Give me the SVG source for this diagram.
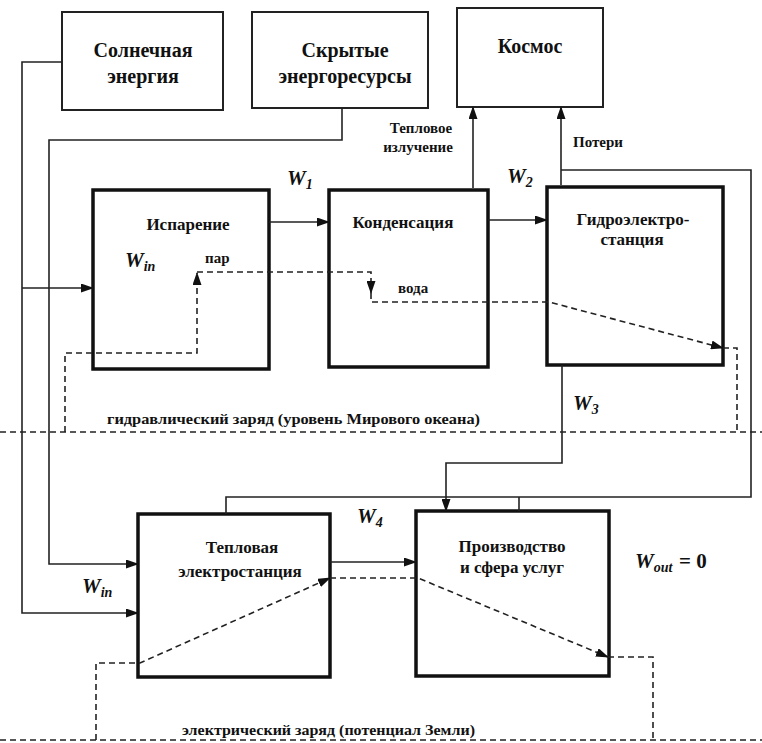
<svg xmlns="http://www.w3.org/2000/svg" width="762" height="743" viewBox="0 0 762 743" font-family="'Liberation Serif', 'DejaVu Serif', serif">
<style>
.src{fill:#fff;stroke:#222;stroke-width:2}
.proc{fill:#fff;stroke:#111;stroke-width:3.5}
.ln{fill:none;stroke:#222;stroke-width:1.6}
.dl{fill:none;stroke:#222;stroke-width:1.6;stroke-dasharray:6,4}
text{font-family:'Liberation Serif','DejaVu Serif',serif;font-weight:bold;fill:#111}
.big{font-size:20px}
.mid{font-size:17px}
.sm{font-size:15px}
.c{text-anchor:middle}
.w{font-size:21px;font-style:italic}
.sub{font-size:14px;font-style:italic}
</style>
<defs>
<marker id="ah" markerWidth="13" markerHeight="9" refX="12" refY="4.5" orient="auto" markerUnits="userSpaceOnUse">
<path d="M0,0 L13,4.5 L0,9 z" fill="#111"/>
</marker>
</defs>
<rect width="762" height="743" fill="#fff"/>

<g id="solar"><rect class="src" x="62" y="12" width="161" height="98"/>
<text class="big c" x="143" y="57">Солнечная</text><text class="big c" x="143" y="83">энергия</text></g>
<g id="hidden"><rect class="src" x="252" y="12" width="176" height="96"/>
<text class="big c" x="345" y="57">Скрытые</text><text class="big c" x="345" y="83">энергоресурсы</text></g>
<g id="cosmos"><rect class="src" x="457" y="8" width="146" height="99"/>
<text class="big c" x="530" y="53">Космос</text></g>
<g id="evap"><rect class="proc" x="93" y="190" width="176" height="179"/>
<text class="mid c" x="188" y="230">Испарение</text></g>
<g id="cond"><rect class="proc" x="329" y="190" width="159" height="177"/>
<text class="mid c" x="403" y="228">Конденсация</text></g>
<g id="hydro"><rect class="proc" x="547" y="187" width="176" height="178"/>
<text class="mid c" x="633" y="225">Гидроэлектро-</text><text class="mid c" x="632" y="245">станция</text></g>
<g id="thermal"><rect class="proc" x="138" y="514" width="192" height="163"/>
<text class="mid c" x="242" y="553">Тепловая</text><text class="mid c" x="240" y="577">электростанция</text></g>
<g id="prod"><rect class="proc" x="416" y="511" width="193" height="165"/>
<text class="mid c" x="512" y="552">Производство</text><text class="mid c" x="512" y="573">и сфера услуг</text></g>

<g id="connectors">
<path class="ln" d="M62,62 H22 V613 H138" marker-end="url(#ah)"/>
<path class="ln" d="M22,288 H93" marker-end="url(#ah)"/>
<path class="ln" d="M342,108 V140 H49 V564 H138" marker-end="url(#ah)"/>
<path class="ln" d="M269,222 H329" marker-end="url(#ah)"/>
<path class="ln" d="M488,220 H547" marker-end="url(#ah)"/>
<path class="ln" d="M473,188 V107" marker-end="url(#ah)"/>
<path class="ln" d="M561,185 V107" marker-end="url(#ah)"/>
<path class="ln" d="M561,170 H751 V497 H226 V514"/>
<path class="ln" d="M519,497 V511"/>
<path class="ln" d="M562,365 V463 H446 V511" marker-end="url(#ah)"/>
<path class="ln" d="M330,562 H416" marker-end="url(#ah)"/>

<path class="dl" d="M0,432 H762"/>
<path class="dl" d="M65,432 V353 H197 V273" marker-end="url(#ah)"/>
<path class="dl" d="M197,272 H371 V293" marker-end="url(#ah)"/>
<path class="dl" d="M371,293 V302 H549 L723,348" marker-end="url(#ah)"/>
<path class="dl" d="M723,348 H737 V432"/>

<path class="dl" d="M0,740 H762"/>
<path class="dl" d="M96,740 V663 H140 L330,578" marker-end="url(#ah)"/>
<path class="dl" d="M330,578 H418 L608,657" marker-end="url(#ah)"/>
<path class="dl" d="M608,657 H653 V740"/>
</g>

<g id="labels">
<text class="sm c" x="421" y="133">Тепловое</text>
<text class="sm c" x="418" y="152">излучение</text>
<text class="sm" x="573" y="147">Потери</text>
<text class="w" x="287" y="185">W<tspan class="sub" dy="4">1</tspan></text>
<text class="w" x="507" y="183">W<tspan class="sub" dy="4">2</tspan></text>
<text class="w" x="573" y="410">W<tspan class="sub" dy="4">3</tspan></text>
<text class="w" x="357" y="523">W<tspan class="sub" dy="4">4</tspan></text>
<text class="w" x="125" y="267">W<tspan class="sub" dy="4">in</tspan></text>
<text class="w" x="82" y="593">W<tspan class="sub" dy="4">in</tspan></text>
<text class="w" x="635" y="568">W<tspan class="sub" dy="4">out</tspan><tspan x="679" dy="-4" style="font-style:normal">= 0</tspan></text>
<text class="sm" x="205" y="263">пар</text>
<text class="sm" x="398" y="293">вода</text>
<text class="sm" x="107" y="424" textLength="373" lengthAdjust="spacingAndGlyphs">гидравлический заряд  (уровень Мирового океана)</text>
<text class="sm" x="182" y="735" textLength="293" lengthAdjust="spacingAndGlyphs">электрический заряд  (потенциал Земли)</text>
</g>
</svg>
